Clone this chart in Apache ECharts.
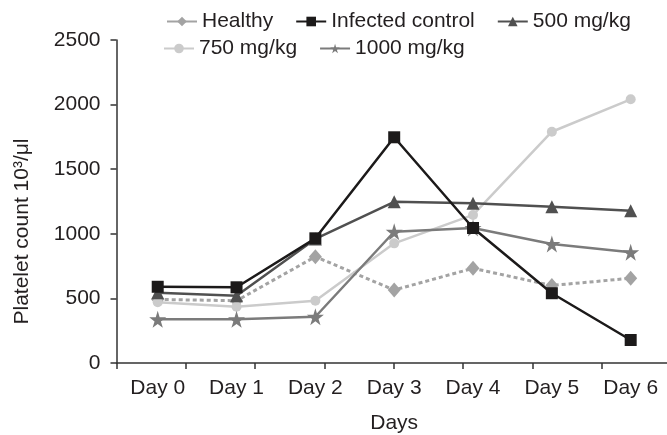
<!DOCTYPE html>
<html>
<head>
<meta charset="utf-8">
<script src="https://cdn.jsdelivr.net/npm/echarts@6/dist/echarts.min.js"></script>
<style>
  html, body { margin: 0; padding: 0; background: #fff; }
  #chart { width: 667px; height: 435px; }
</style>
</head>
<body>
<div id="chart"></div>
<script>
// 数据
const days = ["Day 0", "Day 1", "Day 2", "Day 3", "Day 4", "Day 5", "Day 6"]
const healthy = [492, 482, 823, 565, 733, 600, 656]
const infected = [590, 586, 965, 1747, 1045, 540, 178]
const dose500 = [544, 520, 960, 1248, 1236, 1210, 1179]
const dose750 = [470, 436, 482, 926, 1146, 1790, 2041]
const dose1000 = [338, 338, 358, 1016, 1045, 921, 857]
const yTicks = [0, 500, 1000, 1500, 2000, 2500]

const starPath = "path://M50,0 L61,35 L98,35 L68,57 L79,91 L50,70 L21,91 L32,57 L2,35 L39,35 Z"
const font = "'Liberation Sans', Arial, sans-serif"
const ink = "#231f20"

const chart = echarts.init(document.getElementById("chart"))

const lineSeries = (name, data, color, symbol, size, extra) => Object.assign({
  name: name,
  type: "line",
  xAxisIndex: 1,
  yAxisIndex: 1,
  data: data,
  symbol: symbol,
  symbolSize: size,
  showAllSymbol: true,
  lineStyle: { color: color, width: 2.5 },
  itemStyle: { color: color },
  emphasis: { disabled: true },
  animation: false
}, extra || {})

const legendText = { fontSize: 21, color: ink, fontFamily: font }

chart.setOption({
  backgroundColor: "#fff",
  textStyle: { fontFamily: font },
  legend: [
    {
      data: [
        { name: "Healthy", lineStyle: { type: "solid", width: 2 } },
        "Infected control",
        "500 mg/kg"
      ],
      left: 161,
      top: 6,
      itemWidth: 30,
      itemHeight: 12,
      itemGap: 22,
      textStyle: legendText
    },
    {
      data: ["750 mg/kg", "1000 mg/kg"],
      left: 158,
      top: 33,
      itemWidth: 30,
      itemHeight: 12,
      itemGap: 22,
      textStyle: legendText
    }
  ],
  grid: [
    // 刻度框
    { left: 116.5, top: 40, width: 554.4, height: 323, outerBoundsMode: "none", containLabel: false },
    // 数据区
    { left: 118.3, top: 40, width: 551.8, height: 323, outerBoundsMode: "none", containLabel: false }
  ],
  xAxis: [
    {
      type: "value",
      gridIndex: 0,
      min: 0,
      max: 8,
      interval: 1,
      axisLine: { show: true, lineStyle: { color: "#333", width: 1.5 } },
      axisTick: { show: true, length: 6, lineStyle: { color: "#333", width: 1.5 } },
      axisLabel: { show: false },
      splitLine: { show: false }
    },
    {
      type: "category",
      gridIndex: 1,
      data: days,
      boundaryGap: true,
      axisLine: { show: false },
      axisTick: { show: false },
      axisLabel: { fontSize: 21, color: ink, margin: 15, interval: 0, fontFamily: font },
      name: "Days",
      nameLocation: "middle",
      nameGap: 50,
      nameTextStyle: { fontSize: 21, color: ink, fontFamily: font }
    }
  ],
  yAxis: [
    {
      type: "value",
      gridIndex: 0,
      min: yTicks[0],
      max: yTicks[yTicks.length - 1],
      interval: 500,
      axisLine: { show: true, lineStyle: { color: "#333", width: 1.5 } },
      axisTick: { show: true, length: 6, lineStyle: { color: "#333", width: 1.5 } },
      axisLabel: {
        fontSize: 21,
        color: ink,
        margin: 16,
        fontFamily: font,
        formatter: v => String(v)
      },
      splitLine: { show: false },
      name: "Platelet count 10³/μl",
      nameLocation: "middle",
      nameGap: 84,
      nameTextStyle: { fontSize: 21, color: ink, fontFamily: font, padding: [0, 60, 0, 0] }
    },
    {
      type: "value",
      gridIndex: 1,
      min: yTicks[0],
      max: yTicks[yTicks.length - 1],
      show: false
    }
  ],
  series: [
    lineSeries("Healthy", healthy, "#a3a3a3", "diamond", [13, 15], {
      lineStyle: { color: "#a3a3a3", width: 3, type: [4, 3] }
    }),
    lineSeries("750 mg/kg", dose750, "#cbcbcb", "circle", 10),
    lineSeries("1000 mg/kg", dose1000, "#7b7b7b", starPath, 17),
    lineSeries("500 mg/kg", dose500, "#505050", "triangle", 13),
    lineSeries("Infected control", infected, "#1c1a1a", "rect", 12)
  ]
})
</script>
</body>
</html>
